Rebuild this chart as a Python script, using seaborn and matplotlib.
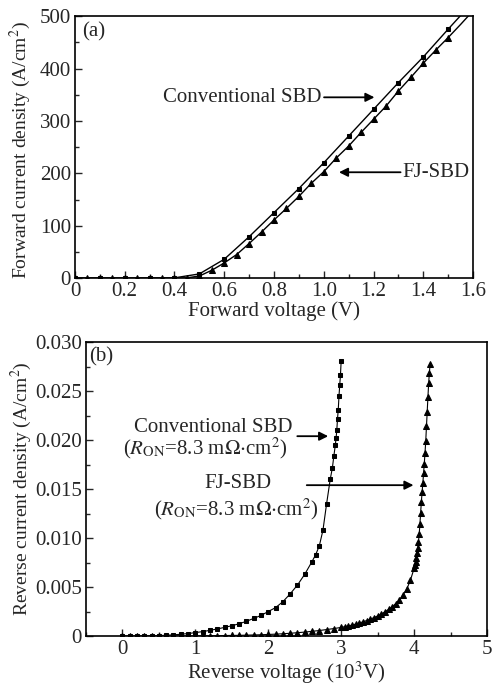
import numpy as np
import pandas as pd
import matplotlib
matplotlib.use('Agg')
import matplotlib.pyplot as plt
import seaborn as sns
from matplotlib.ticker import MultipleLocator, FuncFormatter

# (a) прямая ветвь
fwd_v_conv = [0.0, 0.1, 0.2, 0.3, 0.4, 0.5, 0.6, 0.7, 0.8, 0.9, 1.0, 1.1, 1.2, 1.3, 1.4, 1.5, 1.6]
fwd_j_conv = [0, 0, 0, 0, 0.5, 8, 36, 79, 125, 171, 220, 271, 322, 373, 422, 475, 527]

fwd_v_fj = [0.0, 0.05, 0.1, 0.15, 0.2, 0.25, 0.3, 0.35, 0.4, 0.45, 0.5, 0.55, 0.6, 0.65,
            0.7, 0.75, 0.8, 0.85, 0.9, 0.95, 1.0, 1.05, 1.1, 1.15, 1.2, 1.25, 1.3, 1.35,
            1.4, 1.45, 1.5, 1.55, 1.6]
fwd_j_fj = [0, 0, 0, 0, 0, 0, 0, 0, 0, 0.5, 4, 15, 29, 45,
            66, 88, 111, 133, 156, 181, 203, 229, 252, 278, 303, 328, 357, 383,
            410, 435, 459, 484, 510]

# (b) обратная ветвь, напряжение в 10^3 В
rev_v_conv = [0.0, 0.1, 0.2, 0.3, 0.4, 0.5, 0.6, 0.7, 0.8, 0.9, 1.0, 1.1, 1.2, 1.3, 1.4,
              1.5, 1.6, 1.7, 1.8, 1.9, 2.0, 2.1, 2.2, 2.3, 2.4, 2.5, 2.6, 2.65, 2.7, 2.75,
              2.8, 2.85, 2.88, 2.9, 2.92, 2.93, 2.94, 2.95, 2.96, 2.97, 2.98, 2.99, 3.0]
rev_j_conv = [0.0, 0.0, 0.0, 0.00001, 0.00002, 0.00004, 0.00008, 0.00012, 0.00018, 0.00025,
              0.00035, 0.00045, 0.00058, 0.00072, 0.00088, 0.00105, 0.00125, 0.0015, 0.0018,
              0.0021, 0.0025, 0.0029, 0.0035, 0.0043, 0.0052, 0.0063, 0.0076, 0.0083, 0.0092,
              0.0108, 0.0135, 0.0160, 0.0172, 0.0184, 0.0195, 0.0202, 0.0210, 0.0222, 0.0231,
              0.0245, 0.0256, 0.0266, 0.0281]

rev_v_fj = [0.0, 0.1, 0.2, 0.3, 0.4, 0.5, 0.6, 0.7, 0.8, 0.9, 1.0, 1.1, 1.2, 1.3, 1.4, 1.5,
            1.6, 1.7, 1.8, 1.9, 2.0, 2.1, 2.2, 2.3, 2.4, 2.5, 2.6, 2.7, 2.8, 2.9, 3.0, 3.05,
            3.1, 3.15, 3.2, 3.25, 3.3, 3.35, 3.4, 3.45, 3.5, 3.55, 3.6, 3.65, 3.7, 3.75, 3.8,
            3.85, 3.9, 3.95, 4.0, 4.01, 4.02, 4.03, 4.04, 4.05, 4.06, 4.07, 4.08, 4.09, 4.1,
            4.11, 4.12, 4.13, 4.14, 4.15, 4.16, 4.17, 4.18, 4.19, 4.2, 4.21, 4.22]
rev_j_fj = [0, 0, 0, 0, 0, 0, 0, 0, 0.00001, 0.00001, 0.00002, 0.00002, 0.00003, 0.00004,
            0.00005, 0.00006, 0.00007, 0.00009, 0.00011, 0.00013, 0.00016, 0.00019, 0.00023,
            0.00028, 0.00034, 0.0004, 0.00048, 0.00056, 0.00066, 0.00076, 0.00088, 0.00095,
            0.00103, 0.00112, 0.00122, 0.00133, 0.00145, 0.00158, 0.00172, 0.00188, 0.00205,
            0.00225, 0.00247, 0.00272, 0.0030, 0.00332, 0.0037, 0.0042, 0.0048, 0.0057,
            0.0069, 0.0072, 0.0076, 0.0080, 0.0085, 0.0090, 0.0096, 0.0104, 0.0114, 0.0126,
            0.0137, 0.0147, 0.0156, 0.0166, 0.0176, 0.0187, 0.0199, 0.0214, 0.0229, 0.0244,
            0.0258, 0.0269, 0.0278]

sns.set_style('ticks')
plt.rcParams['font.family'] = ['Liberation Serif', 'DejaVu Serif']
plt.rcParams['mathtext.fontset'] = 'stix'
plt.rcParams['xtick.direction'] = 'in'
plt.rcParams['ytick.direction'] = 'in'

fig = plt.figure(figsize=(4.92, 6.85), dpi=100)
ax1 = fig.add_axes([0.1524, 0.594, 0.809, 0.3825])
ax2 = fig.add_axes([0.1748, 0.0715, 0.815, 0.429])

fs = 15
arr = dict(arrowstyle='-|>', color='k', lw=1.3, mutation_scale=13)

# --- (a)
sns.lineplot(x=fwd_v_conv, y=fwd_j_conv, ax=ax1, color='k', lw=1, marker='s', ms=3.5,
             mec='k', estimator=None, markevery=slice(0, 16))
sns.lineplot(x=fwd_v_fj, y=fwd_j_fj, ax=ax1, color='k', lw=1, marker='^', ms=4,
             mec='k', estimator=None, markevery=slice(0, 31))
ax1.set_xlim(0, 1.6)
ax1.set_ylim(0, 500)
ax1.xaxis.set_major_locator(MultipleLocator(0.2))
ax1.xaxis.set_minor_locator(MultipleLocator(0.1))
ax1.yaxis.set_major_locator(MultipleLocator(100))
ax1.yaxis.set_minor_locator(MultipleLocator(50))
ax1.xaxis.set_major_formatter(FuncFormatter(lambda v, p: '0' if abs(v) < 1e-9 else f'{v:.1f}'))
ax1.set_xlabel('Forward voltage (V)', fontsize=fs, labelpad=0)
ax1.set_ylabel('Forward current density (A/cm$^2$)', fontsize=14, labelpad=1)
ax1.yaxis.set_label_coords(-0.105, 0.49)
ax1.text(0.03, 470, '(a)', fontsize=fs, va='center')
ax1.annotate('', xy=(1.215, 345), xytext=(0.99, 345), arrowprops=arr)
ax1.text(0.99, 345, 'Conventional SBD', fontsize=fs, ha='right', va='center')
ax1.annotate('', xy=(1.05, 202), xytext=(1.32, 202), arrowprops=arr)
ax1.text(1.318, 202, 'FJ-SBD', fontsize=fs, ha='left', va='center')

# --- (b)
sns.lineplot(x=rev_v_conv, y=rev_j_conv, ax=ax2, color='k', lw=0.8, marker='s', ms=3,
             mec='k', estimator=None)
sns.lineplot(x=rev_v_fj, y=rev_j_fj, ax=ax2, color='k', lw=0.8, marker='^', ms=4,
             mec='k', estimator=None)
ax2.set_xlim(-0.5, 5)
ax2.set_ylim(0, 0.030)
ax2.xaxis.set_major_locator(MultipleLocator(1))
ax2.xaxis.set_minor_locator(MultipleLocator(0.5))
ax2.yaxis.set_major_locator(MultipleLocator(0.005))
ax2.yaxis.set_minor_locator(MultipleLocator(0.0025))
ax2.yaxis.set_major_formatter(FuncFormatter(lambda v, p: '0' if abs(v) < 1e-12 else f'{v:.3f}'))
ax2.set_xlabel('Reverse voltage (10$^3$V)', fontsize=fs, labelpad=0)
ax2.set_ylabel('Reverse current density (A/cm$^2$)', fontsize=14, labelpad=1)
ax2.text(-0.46, 0.0285, '(b)', fontsize=fs, va='center')

ax2.text(1.24, 0.0213, 'Conventional SBD', fontsize=fs, ha='center', va='center')
ax2.text(1.13, 0.0192, '($R_{\\mathrm{ON}}$=8.3 m$\\Omega$$\\cdot$cm$^2$)', fontsize=fs,
         ha='center', va='center')
ax2.annotate('', xy=(2.86, 0.0204), xytext=(2.36, 0.0204), arrowprops=arr)
ax2.text(1.58, 0.0156, 'FJ-SBD', fontsize=fs, ha='center', va='center')
ax2.text(1.56, 0.0129, '($R_{\\mathrm{ON}}$=8.3 m$\\Omega$$\\cdot$cm$^2$)', fontsize=fs,
         ha='center', va='center')
ax2.annotate('', xy=(4.03, 0.0154), xytext=(2.49, 0.0154), arrowprops=arr)

for ax in (ax1, ax2):
    ax.tick_params(which='both', top=False, right=False, labelsize=fs, pad=3)
    ax.tick_params(which='major', length=5, width=1)
    ax.tick_params(which='minor', length=3, width=1)
    for s in ax.spines.values():
        s.set_linewidth(1.2)
        s.set_color('k')

fig.savefig('out.png', dpi=100)
